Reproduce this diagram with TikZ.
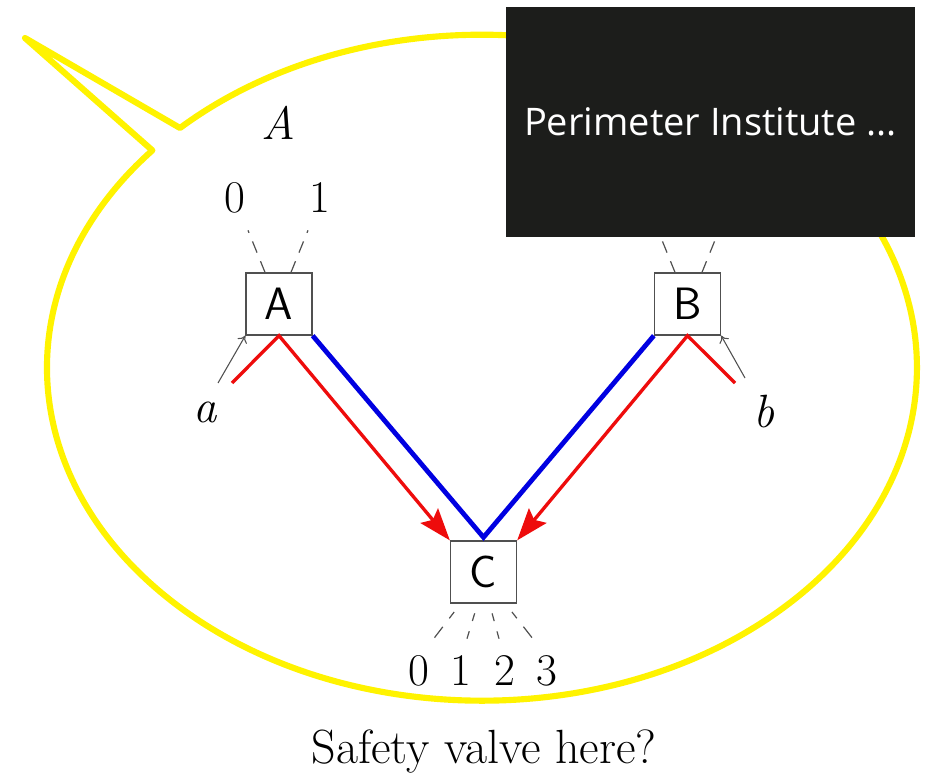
\documentclass[tikz,border=0pt]{standalone}
\usepackage{fontspec}
\newfontfamily\pifont{Open Sans}
\usetikzlibrary{arrows.meta,calc}
\definecolor{ylw}{RGB}{255,243,0}
\definecolor{boxgray}{RGB}{80,80,80}
\definecolor{darkbox}{RGB}{28,29,27}
\definecolor{redl}{RGB}{238,12,12}
\definecolor{bluel}{RGB}{0,0,225}
\begin{document}
\begin{tikzpicture}[x=0.75pt,y=-0.75pt,
  gatebox/.style={draw=boxgray,line width=1pt,minimum width=49.5pt,minimum height=46.5pt,inner sep=0pt,font=\fontsize{34}{38}\selectfont\sffamily},
  lbl/.style={inner sep=0pt,font=\fontsize{34}{38}\selectfont},
  ilbl/.style={inner sep=0pt,font=\fontsize{35}{38}\selectfont\itshape},
  dashln/.style={draw=boxgray,line width=0.9pt,dash pattern=on 9pt off 7pt},
  dashsm/.style={draw=boxgray,line width=0.9pt,dash pattern=on 0pt off 6pt on 6pt off 8pt on 8pt},
  redln/.style={draw=redl,line width=2.5pt},
  redarr/.style={redln,-{Stealth[length=24pt,width=17pt,inset=4pt]}},
  blueln/.style={draw=bluel,line width=3.6pt},
  grayarr/.style={draw=boxgray,line width=0.8pt,-{To[length=5pt,width=8pt]}}
]
\useasboundingbox[fill=white] (0,0) rectangle (928,777);

% speech bubble
\draw[ylw,line width=4.6pt,line join=round]
  (180,128) arc[start angle=133.96,end angle=-220.74,x radius=326.25pt,y radius=249.75pt]
  -- (25,38) -- cycle;

% boxes
\node[gatebox] (A) at (279,304) {A};
\node[gatebox] (B) at (687.5,304) {B};
\node[gatebox] (C) at (483.5,572) {C};

% free ends
\coordinate (ra) at (232,383);
\coordinate (rb) at (735,383);
\coordinate (ga) at (218,383);
\coordinate (gb) at (745,378);
\coordinate (cv) at ($(C.north)+(0,-3)$);

% dashed outputs above A and B
\draw[dashln] ($(A.north)+(-14,0)$) -- ++(-17,-42);
\draw[dashln] ($(A.north)+(12,0)$) -- ++(17,-42);
\draw[dashln] ($(B.north)+(-12.5,0)$) -- ++(-17,-42);
\draw[dashln] ($(B.north)+(14.5,0)$) -- ++(17,-42);

% dashed outputs below C
\draw[dashsm] ($(C.south)+(-24.5,2)$) -- ++(-24.5,32);
\draw[dashsm] ($(C.south)+(-6.5,2)$) -- ++(-10,33);
\draw[dashsm] ($(C.south)+(6.5,2)$) -- ++(9,33);
\draw[dashsm] ($(C.south)+(23.5,2)$) -- ++(25,32);

% gray inputs
\draw[grayarr] (ga) -- (A.south west);
\draw[grayarr] (gb) -- (B.south east);

% blue V
\draw[blueln,line join=miter] (A.south east) -- (cv) -- (B.south west);

% red paths
\draw[redarr,line join=miter] (ra) -- (A.south) -- (C.north west);
\draw[redarr,line join=miter] (rb) -- (B.south) -- (C.north east);

% labels
\node[ilbl] (tA) at (278,123) {A};
\node[lbl] (o0) at (235,198) {0};
\node[lbl] (o1) at (320,198) {1};
\node[ilbl] (la) at (205,412) {a};
\node[ilbl] (lb) at (764,412) {b};
\node[lbl] (c0) at (419,671) {0};
\node[lbl] (c1) at (461,671) {1};
\node[lbl] (c2) at (505,671) {2};
\node[lbl] (c3) at (547,671) {3};
\node[inner sep=0pt,font=\fontsize{36}{40}\selectfont,anchor=base] (sv) at (484,763) {Safety valve here?};

% overlay box
\node[fill=darkbox,minimum width=306.75pt,minimum height=172.5pt,inner sep=0pt,
      text=white,font=\pifont\fontsize{28.5}{32}\selectfont] (pi) at (710.5,122) {Perimeter Institute ...};
\end{tikzpicture}
\end{document}
